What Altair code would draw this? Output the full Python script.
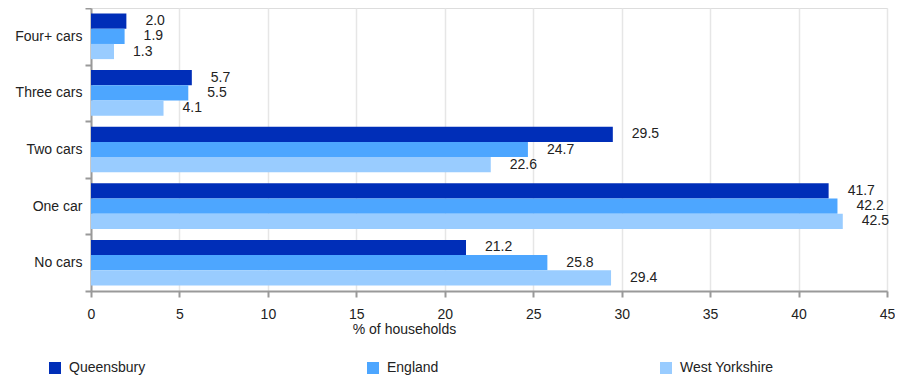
import altair as alt
import pandas as pd

categories = ["Four+ cars", "Three cars", "Two cars", "One car", "No cars"]
series = ["Queensbury", "England", "West Yorkshire"]
queensbury = [2.0, 5.7, 29.5, 41.7, 21.2]
england = [1.9, 5.5, 24.7, 42.2, 25.8]
west_yorkshire = [1.3, 4.1, 22.6, 42.5, 29.4]
colors = ["#002EB8", "#4DA6FF", "#99CCFF"]
x_ticks = [0, 5, 10, 15, 20, 25, 30, 35, 40, 45]

rows = []
for s, vals in zip(series, [queensbury, england, west_yorkshire]):
    for c, v in zip(categories, vals):
        rows.append({"category": c, "series": s, "value": v})
df = pd.DataFrame(rows)

FONT = "Liberation Sans"

y_enc = alt.Y(
    "category:N",
    sort=categories,
    scale=alt.Scale(paddingInner=0, paddingOuter=0),
    axis=alt.Axis(
        title=None,
        tickBand="extent",
        domainColor="#999999",
        domainWidth=2,
        tickColor="#999999",
        tickWidth=2,
        tickSize=6,
        labelPadding=3,
        labelFont=FONT,
        labelFontSize=14,
        labelColor="#222222",
        grid=False,
    ),
)
yoff_enc = alt.YOffset(
    "series:N", sort=series, scale=alt.Scale(paddingInner=0, paddingOuter=0.36)
)
x_enc = alt.X(
    "value:Q",
    scale=alt.Scale(domain=[0, 45], nice=False),
    axis=alt.Axis(
        values=x_ticks,
        title="% of households",
        titleFont=FONT,
        titleFontSize=14,
        titleFontWeight="normal",
        titleColor="#222222",
        titleX=313,
        titleY=38,
        titleAlign="center",
        titleBaseline="middle",
        domainColor="#999999",
        domainWidth=2,
        tickColor="#999999",
        tickWidth=2,
        tickSize=6,
        labelPadding=10,
        labelFlush=False,
        labelFont=FONT,
        labelFontSize=14,
        labelColor="#222222",
        grid=True,
        gridColor="#e6e6e6",
        gridWidth=1.5,
    ),
)

bars = alt.Chart(df).mark_bar().encode(
    y=y_enc,
    yOffset=yoff_enc,
    x=x_enc,
    color=alt.Color(
        "series:N",
        sort=series,
        scale=alt.Scale(domain=series, range=colors),
        legend=alt.Legend(
            title=None,
            orient="none",
            legendX=-43,
            legendY=353,
            direction="horizontal",
            columns=3,
            columnPadding=220,
            symbolType="square",
            symbolSize=144,
            symbolStrokeWidth=0,
            symbolOpacity=1,
            labelFont=FONT,
            labelFontSize=14,
            labelColor="#222222",
            labelOffset=7,
        ),
    ),
)

labels = alt.Chart(df).mark_text(
    align="left", baseline="middle", dx=19, font=FONT, fontSize=14, color="#222222"
).encode(
    y=alt.Y("category:N", sort=categories),
    yOffset=alt.YOffset("series:N", sort=series),
    x=alt.X("value:Q"),
    text=alt.Text("value:Q", format=".1f"),
)

chart = (
    alt.layer(bars, labels)
    .properties(
        width=796,
        height=283,
        autosize=alt.AutoSizeParams(type="none"),
        padding={"left": 83, "top": 0, "right": 8, "bottom": 88},
    )
    .configure_view(stroke=None)
    .configure(background="white")
)

chart.save("out.html", embed_options={"renderer": "svg", "actions": False})
